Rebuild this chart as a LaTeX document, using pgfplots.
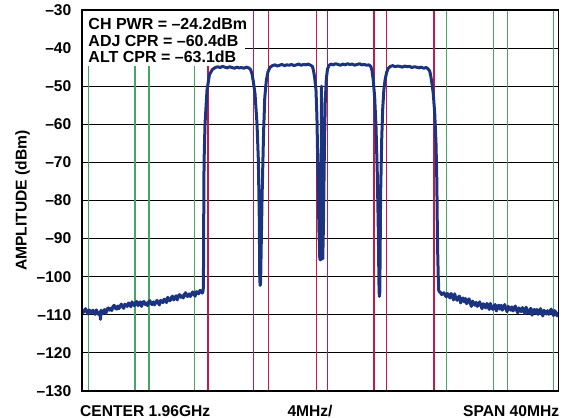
\documentclass[border=0pt]{standalone}
\usepackage{fontspec}
\setmainfont{Liberation Sans}
\usepackage{pgfplots}
\pgfplotsset{compat=1.18}
\definecolor{trace}{RGB}{28,52,128}
\definecolor{vgreen}{RGB}{70,165,100}
\definecolor{vred}{RGB}{195,25,75}
\newcommand{\lbl}{\fontsize{15.6bp}{18bp}\selectfont\bfseries}
\newcommand{\boxf}{\fontsize{16bp}{18bp}\selectfont\bfseries}
\begin{document}
\begin{tikzpicture}
\useasboundingbox (-82bp,-27bp) rectangle (482bp,391bp);
\begin{axis}[
 name=ax,
 at={(0,0)}, anchor=south west,
 scale only axis, width=476.3bp, height=381bp,
 xmin=-20, xmax=20, ymin=-130, ymax=-30,
 xtick=\empty,
 ytick={-130,-120,...,-30},
 yticklabels={–130,–120,–110,–100,–90,–80,–70,–60,–50,–40,–30},
 yticklabel style={font=\lbl, inner sep=0pt, xshift=-10.5bp},
 major tick length=0pt,
 ymajorgrids, grid style={black, line width=1.1bp},
 axis line style={line width=1.6bp},
 unbounded coords=jump,
]
% channel markers (green: adjacent/alternate, red: carriers)
\addplot[vgreen, line width=1.2bp] table {
x y
-19.47 -130
-19.47 -30
nan nan
-15.55 -130
-15.55 -30
nan nan
-14.37 -130
-14.37 -30
nan nan
-10.55 -130
-10.55 -30
nan nan
10.63 -130
10.63 -30
nan nan
14.54 -130
14.54 -30
nan nan
15.71 -130
15.71 -30
nan nan
19.58 -130
19.58 -30
};
\addplot[vred, line width=1.2bp] table {
x y
-9.42 -130
-9.42 -30
nan nan
-5.61 -130
-5.61 -30
nan nan
-4.32 -130
-4.32 -30
nan nan
-0.29 -130
-0.29 -30
nan nan
0.63 -130
0.63 -30
nan nan
4.52 -130
4.52 -30
nan nan
5.59 -130
5.59 -30
nan nan
9.56 -130
9.56 -30
};
\fill[white] ([xshift=0.8bp,yshift=-0.8bp]axis cs:-20,-30) rectangle (axis cs:-6.31,-44.7);
\addplot[trace, line width=3bp, line join=round] table {
x y
-20.0 -108.6
-19.9 -109.4
-19.8 -108.9
-19.7 -108.4
-19.6 -109.3
-19.5 -109.8
-19.4 -108.7
-19.3 -109.2
-19.2 -109.5
-19.1 -108.8
-19.0 -109.1
-18.9 -109.9
-18.8 -108.7
-18.7 -109.5
-18.6 -109.9
-18.5 -109.2
-18.45 -111.2
-18.4 -108.8
-18.3 -109.8
-18.2 -109.1
-18.1 -108.6
-18.0 -109.7
-17.9 -108.6
-17.8 -108.2
-17.7 -108.8
-17.6 -108.3
-17.5 -108.9
-17.4 -107.8
-17.3 -107.5
-17.2 -108.3
-17.1 -108.5
-17.0 -107.7
-16.9 -108.4
-16.8 -107.7
-16.7 -107.2
-16.6 -107.9
-16.5 -108.3
-16.4 -107.2
-16.3 -107.5
-16.2 -107.8
-16.1 -106.9
-16.0 -107.2
-15.9 -107.9
-15.8 -106.6
-15.7 -107.3
-15.6 -107.6
-15.5 -106.8
-15.4 -106.5
-15.3 -107.6
-15.2 -107.0
-15.1 -106.6
-15.0 -107.8
-14.9 -106.8
-14.8 -106.5
-14.7 -107.3
-14.6 -106.9
-14.5 -107.6
-14.4 -106.6
-14.3 -106.3
-14.2 -107.1
-14.1 -107.3
-14.0 -106.6
-13.9 -107.4
-13.8 -106.7
-13.7 -106.2
-13.6 -106.9
-13.5 -107.4
-13.4 -106.2
-13.3 -106.5
-13.2 -106.8
-13.1 -105.9
-13.0 -106.1
-12.9 -106.8
-12.8 -105.4
-12.7 -106.1
-12.6 -106.3
-12.5 -105.5
-12.4 -105.1
-12.3 -106.1
-12.2 -105.5
-12.1 -105.0
-12.0 -106.1
-11.9 -105.0
-11.8 -104.7
-11.7 -105.4
-11.6 -105.0
-11.5 -105.6
-11.4 -104.6
-11.3 -104.2
-11.2 -105.1
-11.1 -105.2
-11.0 -104.5
-10.9 -105.2
-10.8 -104.5
-10.7 -104.0
-10.6 -104.7
-10.5 -105.1
-10.4 -103.9
-10.3 -104.2
-10.2 -104.5
-10.1 -103.6
-10.0 -103.8
-9.9 -104.3
-9.85 -103.9
-9.82 -103.5
-9.80 -100.5
-9.78 -86
-9.75 -70
-9.67 -60
-9.50 -51
-9.30 -47
-9.05 -45.6
-8.8 -45.1
-8.6 -44.9
-8.4 -45.1
-8.2 -44.8
-8.0 -45.0
-7.8 -45.2
-7.6 -44.9
-7.4 -45.1
-7.2 -45.3
-7.0 -45.0
-6.8 -45.2
-6.6 -45.1
-6.4 -45.3
-6.2 -45.0
-6.0 -45.2
-5.85 -45.6
-5.72 -46.8
-5.60 -49
-5.47 -52
-5.30 -60
-5.19 -69.4
-5.11 -85
-5.07 -100.5
-5.04 -102.3
-5.00 -101.5
-4.95 -92
-4.87 -78
-4.75 -62
-4.65 -53
-4.52 -48.5
-4.38 -46.2
-4.2 -45.0
-4.0 -44.6
-3.8 -44.4
-3.6 -44.7
-3.4 -44.5
-3.2 -44.3
-3.0 -44.6
-2.8 -44.4
-2.6 -44.5
-2.4 -44.3
-2.2 -44.6
-2.0 -44.4
-1.8 -44.2
-1.6 -44.5
-1.4 -44.3
-1.2 -44.4
-1.0 -44.2
-0.8 -44.5
-0.65 -44.8
-0.55 -46
-0.45 -48
-0.35 -51
-0.27 -58
-0.19 -72
-0.10 -88
-0.03 -95.3
0.04 -95.6
0.08 -80
0.11 -50
0.14 -78
0.18 -94
0.22 -95.3
0.28 -86
0.35 -68
0.43 -54
0.52 -48
0.62 -45.5
0.75 -44.5
0.9 -44.2
1.1 -44.4
1.3 -44.1
1.5 -44.3
1.7 -44.5
1.9 -44.2
2.1 -44.4
2.3 -44.1
2.5 -44.3
2.7 -44.2
2.9 -44.5
3.1 -44.3
3.3 -44.1
3.5 -44.4
3.7 -44.3
3.9 -44.5
4.1 -44.4
4.25 -44.8
4.35 -45.8
4.46 -48.4
4.58 -53
4.69 -60.6
4.80 -73
4.88 -87
4.94 -102
4.97 -105.2
5.01 -104
5.08 -78
5.17 -64
5.25 -56.2
5.35 -51
5.45 -48.4
5.58 -46.4
5.72 -45.3
5.9 -44.8
6.1 -44.6
6.3 -44.9
6.5 -44.7
6.7 -44.8
6.9 -45.0
7.1 -44.7
7.3 -44.9
7.5 -44.8
7.7 -45.1
7.9 -44.9
8.1 -45.0
8.3 -45.2
8.5 -45.0
8.7 -45.3
8.9 -45.1
9.05 -45.4
9.2 -46
9.30 -47.5
9.40 -49.5
9.50 -52
9.62 -57
9.73 -65
9.80 -75
9.84 -87
9.88 -95
9.92 -100
9.96 -103.6
10.05 -104.1
10.1 -104.1
10.2 -104.7
10.3 -104.4
10.4 -104.2
10.5 -104.9
10.6 -105.3
10.7 -104.4
10.8 -104.9
10.9 -105.6
11.0 -104.4
11.1 -105.2
11.2 -106.1
11.3 -104.5
11.4 -105.7
11.5 -106.2
11.6 -105.4
11.7 -105.1
11.8 -106.9
11.9 -105.8
12.0 -105.6
12.1 -106.6
12.2 -105.7
12.3 -107.1
12.4 -106.4
12.5 -105.8
12.6 -106.9
12.7 -107.8
12.8 -106.4
12.9 -106.9
13.0 -107.5
13.1 -106.7
13.2 -107.8
13.3 -107.1
13.4 -106.6
13.5 -107.7
13.6 -108.4
13.7 -107.1
13.8 -107.5
13.9 -108.2
14.0 -107.0
14.1 -107.8
14.2 -108.6
14.3 -107.0
14.4 -108.1
14.5 -108.6
14.6 -107.7
14.7 -107.3
14.8 -109.0
14.9 -107.8
15.0 -107.5
15.1 -108.5
15.2 -107.5
15.3 -108.8
15.4 -108.0
15.5 -107.3
15.6 -108.4
15.7 -109.2
15.8 -107.8
15.9 -108.2
16.0 -108.8
16.1 -107.9
16.2 -109.0
16.3 -108.2
16.4 -107.7
16.5 -108.9
16.6 -109.5
16.7 -108.2
16.8 -108.6
16.9 -109.2
17.0 -108.1
17.1 -108.8
17.2 -109.7
17.3 -108.0
17.4 -109.1
17.5 -109.6
17.6 -108.7
17.7 -108.3
17.8 -110.1
17.9 -108.9
18.0 -108.6
18.1 -109.6
18.2 -108.6
18.3 -109.9
18.4 -109.1
18.5 -108.4
18.6 -109.5
18.7 -110.3
18.8 -108.8
18.9 -109.3
19.0 -109.8
19.1 -108.9
19.2 -109.9
19.3 -109.1
19.4 -108.5
19.5 -109.6
19.6 -110.2
19.7 -108.9
19.8 -109.4
19.9 -110.3
20.0 -109.3
};
\end{axis}
\draw[line width=1.6bp] (ax.south west) rectangle (ax.north east);
\node[font=\boxf, anchor=base west, inner sep=0pt] at ([xshift=6.3bp,yshift=-20bp]ax.north west) {CH PWR = –24.2dBm};
\node[font=\boxf, anchor=base west, inner sep=0pt] at ([xshift=6.3bp,yshift=-36.5bp]ax.north west) {ADJ CPR = –60.4dB};
\node[font=\boxf, anchor=base west, inner sep=0pt] at ([xshift=6.3bp,yshift=-52.3bp]ax.north west) {ALT CPR = –63.1dB};
\node[font=\lbl, anchor=base west, inner sep=0pt] at ([xshift=-2bp,yshift=-25bp]ax.south west) {CENTER 1.96GHz};
\node[font=\lbl, anchor=base west, inner sep=0pt] at ([xshift=205.3bp,yshift=-25bp]ax.south west) {4MHz/};
\node[font=\lbl, anchor=base east, inner sep=0pt] at ([xshift=1bp,yshift=-25bp]ax.south east) {SPAN 40MHz};
\node[font=\lbl, rotate=90, anchor=base, inner sep=0pt] at ([xshift=-55.3bp]ax.west) {AMPLITUDE (dBm)};
\end{tikzpicture}
\end{document}
